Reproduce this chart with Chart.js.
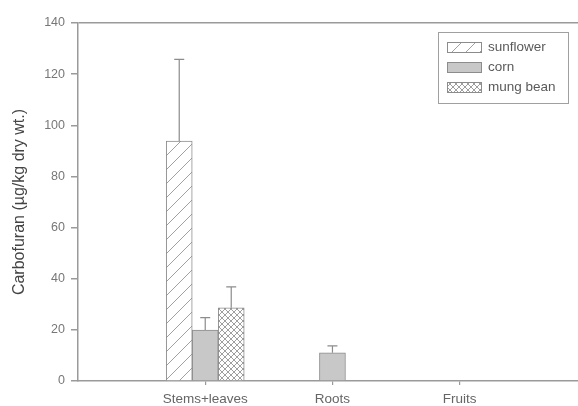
<!DOCTYPE html>
<html>
<head>
<meta charset="utf-8">
<script src="https://cdn.jsdelivr.net/npm/chart.js@4/dist/chart.umd.min.js"></script>
<style>
  html, body { margin: 0; padding: 0; background: #fff; overflow: hidden; }
  canvas { display: block; }
</style>
</head>
<body>
<canvas id="c" width="578" height="406"></canvas>
<script>
// Tissue categories and carbofuran residues (µg/kg dry wt.)
const categories = ['Stems+leaves', 'Roots', 'Fruits'];
const seriesNames = ['sunflower', 'corn', 'mung bean'];
const sunflower = [93.8, null, null];
const corn = [19.9, 11.0, null];
const mungBean = [28.6, null, null];
// Upper error (standard deviation) for each bar
const sunflowerErr = [32.0, null, null];
const cornErr = [4.9, 2.7, null];
const mungBeanErr = [8.2, null, null];
const yTicks = [0, 20, 40, 60, 80, 100, 120, 140];

const FONT = "'Liberation Sans', Arial, sans-serif";
const AXIS = '#9a9a9a';

function makePattern(size, draw) {
  const c = document.createElement('canvas');
  c.width = size; c.height = size;
  const g = c.getContext('2d');
  g.fillStyle = '#fff';
  g.fillRect(0, 0, size, size);
  draw(g, size);
  return g.createPattern(c, 'repeat');
}
const ctxMain = document.getElementById('c').getContext('2d');
const hatch = makePattern(14, (g, s) => {
  g.strokeStyle = '#a0a0a0'; g.lineWidth = 1;
  g.beginPath();
  g.moveTo(0, s); g.lineTo(s, 0);
  g.moveTo(-2, 2); g.lineTo(2, -2);
  g.moveTo(s - 2, s + 2); g.lineTo(s + 2, s - 2);
  g.stroke();
});
const cross = makePattern(6, (g, s) => {
  g.strokeStyle = '#949494'; g.lineWidth = 0.9;
  g.beginPath();
  g.moveTo(0, 0); g.lineTo(s, s);
  g.moveTo(0, s); g.lineTo(s, 0);
  g.stroke();
});

const toPoints = arr => arr.map((v, i) => ({ x: i + 1, y: v }));

// Upward-only error bars with caps
const errorBars = {
  id: 'errorBars',
  afterDatasetsDraw(chart) {
    const c = chart.ctx;
    const y = chart.scales.y;
    chart.data.datasets.forEach((ds, di) => {
      const meta = chart.getDatasetMeta(di);
      ds.errors.forEach((e, i) => {
        const v = ds.data[i].y;
        if (e == null || v == null) return;
        const bar = meta.data[i];
        const x = bar.x;
        const y0 = y.getPixelForValue(v);
        const y1 = y.getPixelForValue(v + e);
        c.save();
        c.strokeStyle = '#8c8c8c';
        c.lineWidth = 1.2;
        c.beginPath();
        c.moveTo(x, y0); c.lineTo(x, y1);
        c.moveTo(x - 5, y1); c.lineTo(x + 5, y1);
        c.stroke();
        c.restore();
      });
    });
  }
};

// Boxed legend in the upper right of the plot
const boxLegend = {
  id: 'boxLegend',
  afterDraw(chart) {
    const c = chart.ctx;
    const area = chart.chartArea;
    const bx = area.right - 140, by = area.top + 9, bw = 130, bh = 71;
    c.save();
    c.fillStyle = '#fff';
    c.fillRect(bx, by, bw, bh);
    c.strokeStyle = '#a0a0a0';
    c.lineWidth = 1;
    c.strokeRect(bx + 0.5, by + 0.5, bw, bh);
    c.font = '13.5px ' + FONT;
    c.textBaseline = 'middle';
    chart.data.datasets.forEach((ds, i) => {
      const cy = by + 15 + i * 20;
      const sx = bx + 9, sw = 34, sh = 10;
      c.fillStyle = ds.backgroundColor;
      c.fillRect(sx, cy - sh / 2, sw, sh);
      c.strokeStyle = '#8c8c8c';
      c.strokeRect(sx + 0.5, cy - sh / 2 + 0.5, sw, sh);
      c.fillStyle = '#5a5a5a';
      c.fillText(ds.label, sx + sw + 7, cy + 0.5);
    });
    c.restore();
  }
};

const makeSet = (label, values, errs, bg) => ({
  label,
  data: toPoints(values),
  errors: errs,
  backgroundColor: bg,
  borderColor: '#8c8c8c',
  borderWidth: 1,
  barThickness: 26,
});

new Chart(ctxMain, {
  type: 'bar',
  data: {
    datasets: [
      makeSet(seriesNames[0], sunflower, sunflowerErr, hatch),
      makeSet(seriesNames[1], corn, cornErr, '#c8c8c8'),
      makeSet(seriesNames[2], mungBean, mungBeanErr, cross),
    ]
  },
  options: {
    responsive: false,
    animation: false,
    devicePixelRatio: 1,
    layout: { padding: { top: 23, left: 0, right: 0, bottom: 0 } },
    plugins: { legend: { display: false }, tooltip: { enabled: false } },
    scales: {
      x: {
        type: 'linear',
        offset: false,
        min: 0,
        max: 3.93,
        afterBuildTicks: s => { s.ticks = categories.map((_, i) => ({ value: i + 1 })); },
        afterFit: s => { s.height = 25; },
        ticks: {
          callback: v => categories[v - 1],
          color: '#666',
          font: { family: FONT, size: 13.5 },
          padding: 6,
          maxRotation: 0,
          autoSkip: false,
        },
        grid: { offset: false, drawOnChartArea: false, tickLength: 4, color: AXIS, lineWidth: 1.2 },
        border: { color: AXIS, width: 1.5 },
      },
      y: {
        min: 0,
        max: 140,
        afterBuildTicks: s => { s.ticks = yTicks.map(v => ({ value: v })); },
        afterFit: s => { s.width = 78; },
        ticks: {
          color: '#777',
          font: { family: FONT, size: 12.5 },
          padding: 6,
        },
        grid: {
          color: c => (c.tick && c.tick.value === 140 ? AXIS : 'rgba(0,0,0,0)'),
          tickColor: AXIS,
          tickLength: 7,
          lineWidth: 1.5,
        },
        border: { color: AXIS, width: 1.5 },
        title: {
          display: true,
          text: 'Carbofuran (µg/kg dry wt.)',
          color: '#444',
          font: { family: FONT, size: 16 },
          padding: { top: 10, bottom: 0 },
        },
      },
    },
  },
  plugins: [errorBars, boxLegend],
});
</script>
</body>
</html>
